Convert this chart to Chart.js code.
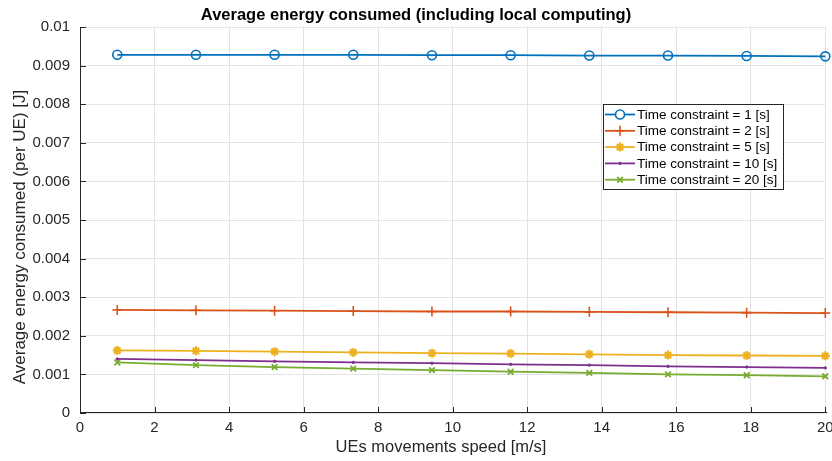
<!DOCTYPE html>
<html>
<head>
<meta charset="utf-8">
<script src="https://cdn.jsdelivr.net/npm/chart.js@4/dist/chart.umd.min.js"></script>
<style>
html,body{margin:0;padding:0;background:#fff;}
#wrap{width:832px;height:461px;position:relative;}
</style>
</head>
<body>
<div id="wrap"><canvas id="c" width="832" height="461"></canvas></div>
<script>
const speeds = [1, 3.111, 5.222, 7.333, 9.444, 11.556, 13.667, 15.778, 17.889, 20];
const seriesNames = ['Time constraint = 1 [s]','Time constraint = 2 [s]','Time constraint = 5 [s]','Time constraint = 10 [s]','Time constraint = 20 [s]'];
const tc1  = [0.00928, 0.00928, 0.00928, 0.00928, 0.00927, 0.00927, 0.00926, 0.00926, 0.00925, 0.00924];
const tc2  = [0.00267, 0.00266, 0.00265, 0.00264, 0.00263, 0.00263, 0.00262, 0.00261, 0.00260, 0.00259];
const tc5  = [0.00162, 0.00161, 0.00159, 0.00157, 0.00155, 0.00154, 0.00152, 0.00150, 0.00149, 0.00148];
const tc10 = [0.00140, 0.00137, 0.00134, 0.00131, 0.00129, 0.00126, 0.00124, 0.00121, 0.00119, 0.00117];
const tc20 = [0.00131, 0.00124, 0.00119, 0.00115, 0.00111, 0.00107, 0.00104, 0.00100, 0.00098, 0.00095];
const yTickLabels = ['0','0.001','0.002','0.003','0.004','0.005','0.006','0.007','0.008','0.009','0.01'];
const xTickLabels = ['0','2','4','6','8','10','12','14','16','18','20'];
const titleText = 'Average energy consumed (including local computing)';
const xTitle = 'UEs movements speed [m/s]';
const yTitle = 'Average energy consumed (per UE) [J]';

const colors = ['#0072BD','#D95319','#EDB120','#7E2F8E','#77AC30'];
const styles = [
  {pointStyle:'circle', radius:4.5, fill:false, bw:1.6},
  {pointStyle:'cross', radius:5, fill:false, bw:1.6},
  {pointStyle:'star', radius:4.5, fill:false, bw:2.2},
  {pointStyle:'circle', radius:1.2, fill:true, bw:1},
  {pointStyle:'crossRot', radius:4, fill:false, bw:1.8}
];
const allSeries = [tc1, tc2, tc5, tc10, tc20];
const FONT = "'Liberation Sans', Arial, Helvetica, sans-serif";

const datasets = allSeries.map((s, i) => ({
  label: seriesNames[i],
  data: speeds.map((x, j) => ({x: x, y: s[j]})),
  borderColor: colors[i],
  backgroundColor: styles[i].fill ? colors[i] : 'rgba(0,0,0,0)',
  borderWidth: 1.8,
  pointStyle: styles[i].pointStyle,
  pointRadius: styles[i].radius,
  pointBorderWidth: styles[i].bw,
  pointBorderColor: colors[i],
  pointBackgroundColor: styles[i].fill ? colors[i] : 'rgba(0,0,0,0)',
  tension: 0,
  fill: false,
  clip: false
}));

const axesDeco = {
  id: 'axesDeco',
  afterDraw(chart) {
    const ctx = chart.ctx, a = chart.chartArea;
    const xs = chart.scales.x, ys = chart.scales.y;
    ctx.save();
    ctx.strokeStyle = '#262626';
    ctx.lineWidth = 1;
    ctx.beginPath();
    ctx.moveTo(a.left + 0.5, a.top);
    ctx.lineTo(a.left + 0.5, a.bottom);
    ctx.moveTo(a.left, a.bottom - 0.5);
    ctx.lineTo(a.right + 2, a.bottom - 0.5);
    for (let v = 0; v <= 20; v += 2) {
      const px = Math.round(xs.getPixelForValue(v)) + 0.5;
      ctx.moveTo(px, a.bottom);
      ctx.lineTo(px, a.bottom - 6);
    }
    for (let k = 0; k <= 10; k++) {
      const py = Math.round(ys.getPixelForValue(k * 0.001)) + 0.5;
      ctx.moveTo(a.left, py);
      ctx.lineTo(a.left + 6, py);
    }
    ctx.stroke();
    // title and axis labels
    ctx.fillStyle = '#000';
    ctx.textAlign = 'center';
    ctx.textBaseline = 'middle';
    ctx.font = "bold 16.5px " + FONT;
    ctx.fillText(titleText, 416, 15);
    ctx.fillStyle = '#262626';
    ctx.font = "16.5px " + FONT;
    ctx.fillText(xTitle, 441, 447);
    ctx.translate(20, 237);
    ctx.rotate(-Math.PI / 2);
    ctx.font = "17px " + FONT;
    ctx.fillText(yTitle, 0, 0);
    ctx.restore();
  }
};

const boxLegend = {
  id: 'boxLegend',
  afterDraw(chart) {
    const ctx = chart.ctx;
    const bx = 603.5, by = 104.5, bw = 180, bh = 85;
    ctx.save();
    ctx.fillStyle = '#fff';
    ctx.fillRect(bx, by, bw, bh);
    ctx.strokeStyle = '#262626';
    ctx.lineWidth = 1;
    ctx.strokeRect(bx, by, bw, bh);
    ctx.font = "13.5px " + FONT;
    ctx.textBaseline = 'middle';
    ctx.textAlign = 'left';
    for (let i = 0; i < 5; i++) {
      const y = 114.5 + i * 16.3;
      ctx.strokeStyle = colors[i];
      ctx.lineWidth = 1.8;
      ctx.beginPath();
      ctx.moveTo(605, y);
      ctx.lineTo(635, y);
      ctx.stroke();
      ctx.fillStyle = styles[i].fill ? colors[i] : '#fff';
      ctx.strokeStyle = colors[i];
      ctx.lineWidth = styles[i].bw;
      Chart.helpers.drawPoint(ctx, {pointStyle: styles[i].pointStyle, radius: styles[i].radius, rotation: 0, borderWidth: styles[i].bw}, 620, y);
      ctx.fillStyle = '#000';
      ctx.fillText(seriesNames[i], 637, y + 0.5);
    }
    ctx.restore();
  }
};

new Chart(document.getElementById('c'), {
  type: 'line',
  data: { datasets },
  options: {
    responsive: false,
    animation: false,
    devicePixelRatio: 1,
    layout: { padding: { left: 0, right: 2, top: 27, bottom: 0 } },
    plugins: {
      legend: { display: false },
      tooltip: { enabled: false },
      title: { display: false }
    },
    scales: {
      x: {
        type: 'linear',
        min: 0, max: 20,
        border: { display: false },
        grid: { color: '#e3e3e3', lineWidth: 1, drawTicks: false },
        ticks: {
          stepSize: 2,
          padding: 6,
          color: '#262626',
          font: { family: FONT, size: 15 },
          maxRotation: 0,
          autoSkip: false,
          callback: (v) => xTickLabels[Math.round(v / 2)]
        },
        afterFit(s) { s.paddingLeft = 0; s.paddingRight = 0; s.height = 48; }
      },
      y: {
        type: 'linear',
        min: 0, max: 0.01,
        border: { display: false },
        grid: { color: '#e3e3e3', lineWidth: 1, drawTicks: false },
        ticks: {
          stepSize: 0.001,
          padding: 10,
          color: '#262626',
          font: { family: FONT, size: 15 },
          autoSkip: false,
          callback: (v) => yTickLabels[Math.round(v / 0.001)]
        },
        afterFit(s) { s.paddingTop = 0; s.paddingBottom = 0; s.width = 80; }
      }
    }
  },
  plugins: [axesDeco, boxLegend]
});
</script>
</body>
</html>
